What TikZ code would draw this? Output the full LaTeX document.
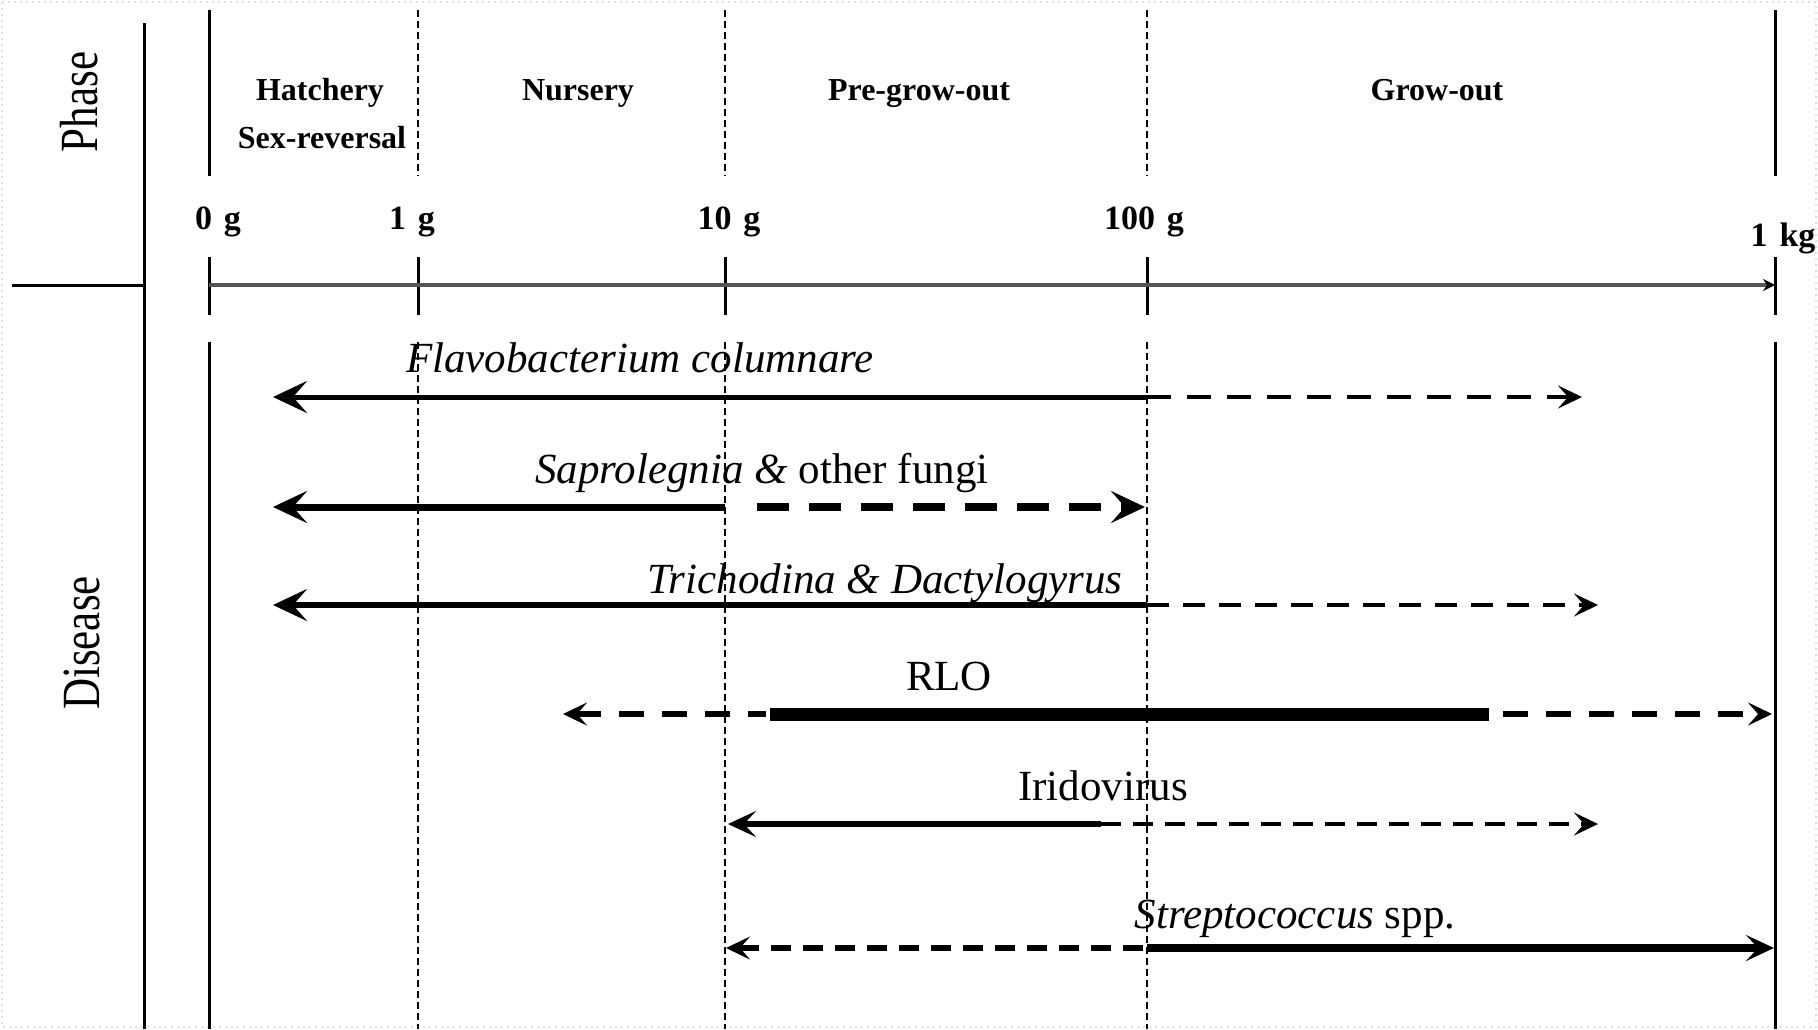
\documentclass[tikz,border=0pt]{standalone}
\usepackage{fontspec}
\setmainfont{Liberation Serif}
\usetikzlibrary{arrows.meta}
\definecolor{axisgray}{RGB}{85,85,85}
\definecolor{framegray}{RGB}{225,225,225}
\tikzset{
  BigHead/.tip={Stealth[length=17pt,width=16pt,inset=7pt]},
  MidHead/.tip={Stealth[length=14pt,width=13pt,inset=6pt]},
  SmallHead/.tip={Stealth[length=12pt,width=11.5pt,inset=5pt]},
  AxisHead/.tip={Stealth[length=6pt,width=6pt,inset=2pt]},
  vsolid/.style={line width=1.5pt},
  vdash/.style={line width=1pt,dash pattern=on 3.5pt off 2pt},
  phaselab/.style={font=\fontsize{16}{18}\selectfont\bfseries,inner sep=0pt,anchor=base},
  wtlab/.style={font=\fontsize{17}{19}\selectfont\bfseries,inner sep=0pt,anchor=base},
  dislab/.style={font=\fontsize{21.5}{24}\selectfont,inner sep=0pt,anchor=base},
  sidelab/.style={font=\fontsize{21.5}{24}\selectfont,inner sep=0pt,rotate=90},
  axisline/.style={line width=1.7pt,draw=axisgray},
}
\begin{document}
\begin{tikzpicture}[x=0.5pt,y=-0.5pt]
\useasboundingbox (0,0) rectangle (1818,1029);
\draw[framegray,line width=1pt,dotted] (2,2) rectangle (1816,1027);

% side labels and separators
\node[sidelab] (phase) at (79,102) {\scalebox{1}[1.25]{Phase}};
\node[sidelab] (disease) at (82,643) {\scalebox{1}[1.25]{Disease}};
\coordinate (sepT) at (144,23);
\coordinate (sepB) at (144,1029);
\coordinate (hL) at (12,285);
\draw[vsolid] (sepT) -- (sepB);
\draw[vsolid] (hL) -- (sepT |- hL);

% weight positions: 0g=209, 1g=418, 10g=725, 100g=1147, 1kg=1775
\foreach \n/\x in {a/209,b/418,c/725,d/1147,e/1775}{
  \coordinate (\n1) at (\x,10);
  \coordinate (\n2) at (\x,176);
  \coordinate (\n3) at (\x,257);
  \coordinate (\n4) at (\x,315);
  \coordinate (\n5) at (\x,342);
  \coordinate (\n6) at (\x,1029);
}
\draw[vsolid] (a1) -- (a2) (a3) -- (a4) (a5) -- (a6);
\draw[vsolid] (e1) -- (e2) (e3) -- (e4) (e5) -- (e6);
\draw[vdash] (b1) -- (b2) (c1) -- (c2) (d1) -- (d2);
\draw[vsolid] (b3) -- (b4) (c3) -- (c4) (d3) -- (d4);
\draw[vdash,line width=0.9pt] (b5) -- (b6);
\draw[vdash,line width=1.2pt] (c5) -- (c6);
\draw[vdash,line width=1pt] (d5) -- (d6);

% axis
\coordinate (ax0) at (209,285);
\coordinate (ax1) at (1775,285);
\draw[axisline,-{AxisHead[black]}] (ax0) -- (ax1);

% phase labels
\node[phaselab] (hatch) at (320,100) {Hatchery};
\node[phaselab] (sexrev) at (322,148) {Sex-reversal};
\node[phaselab] (nurs) at (578,100) {Nursery};
\node[phaselab] (pregrow) at (919,100) {Pre-grow-out};
\node[phaselab] (grow) at (1437,100) {Grow-out};

% weight labels
\node[wtlab] (w0) at (218,229) {0\hspace{0.35em}g};
\node[wtlab] (w1) at (412,229) {1\hspace{0.35em}g};
\node[wtlab] (w10) at (729,229) {10\hspace{0.35em}g};
\node[wtlab] (w100) at (1144,229) {100\hspace{0.35em}g};
\node[wtlab] (w1k) at (1783,246) {1\hspace{0.35em}kg};

% disease labels
\node[dislab] (flavo) at (640,372) {\textit{Flavobacterium columnare}};
\node[dislab] (sapro) at (762,483) {\textit{Saprolegnia \&} other fungi};
\node[dislab] (trich) at (885,593) {\textit{Trichodina \& Dactylogyrus}};
\node[dislab] (rlo) at (949,690) {RLO};
\node[dislab] (irido) at (1103,800) {Iridovirus};
\node[dislab] (strep) at (1295,928) {\textit{Streptococcus} spp.};

% Flavobacterium
\coordinate (fL) at (273,397); \coordinate (fM) at (1147,397); \coordinate (fR) at (1582,397);
\draw[line width=2.5pt,{BigHead}-] (fL) -- (fM);
\draw[line width=2pt,dash pattern=on 12pt off 8pt,-{SmallHead}] (fM) -- (fR);

% Saprolegnia
\coordinate (sL) at (273,507); \coordinate (sM) at (725,507);
\coordinate (sM2) at (757,507); \coordinate (sR) at (1145,507);
\draw[line width=3.5pt,{BigHead}-] (sL) -- (sM);
\draw[line width=4pt,dash pattern=on 16pt off 10pt,-{BigHead}] (sM2) -- (sR);

% Trichodina
\coordinate (tL) at (273,605); \coordinate (tM) at (1147,605); \coordinate (tR) at (1598,605);
\draw[line width=3pt,{BigHead}-] (tL) -- (tM);
\draw[line width=2pt,dash pattern=on 11pt off 7pt,-{SmallHead}] (tM) -- (tR);

% RLO
\coordinate (r1) at (563,714); \coordinate (r2) at (766,714); \coordinate (r3) at (770,714);
\coordinate (r4) at (1489,714); \coordinate (r5) at (1503,714); \coordinate (r6) at (1772,714);
\draw[line width=3pt,dash pattern=on 12.5pt off 9pt,{SmallHead}-] (r1) -- (r2);
\draw[line width=6.5pt] (r3) -- (r4);
\draw[line width=3pt,dash pattern=on 12.5pt off 9pt,-{SmallHead}] (r5) -- (r6);

% Iridovirus
\coordinate (iL) at (728,824); \coordinate (iM) at (1101,824); \coordinate (iR) at (1598,824);
\draw[line width=3pt,{MidHead}-] (iL) -- (iM);
\draw[line width=2pt,dash pattern=on 10pt off 6pt,-{SmallHead}] (iM) -- (iR);

% Streptococcus
\coordinate (pL) at (726,948); \coordinate (pM) at (1147,948); \coordinate (pR) at (1774,948);
\draw[line width=3pt,dash pattern=on 10pt off 6pt,{SmallHead}-] (pL) -- (pM);
\draw[line width=4pt,-{MidHead}] (pM) -- (pR);
\end{tikzpicture}
\end{document}
